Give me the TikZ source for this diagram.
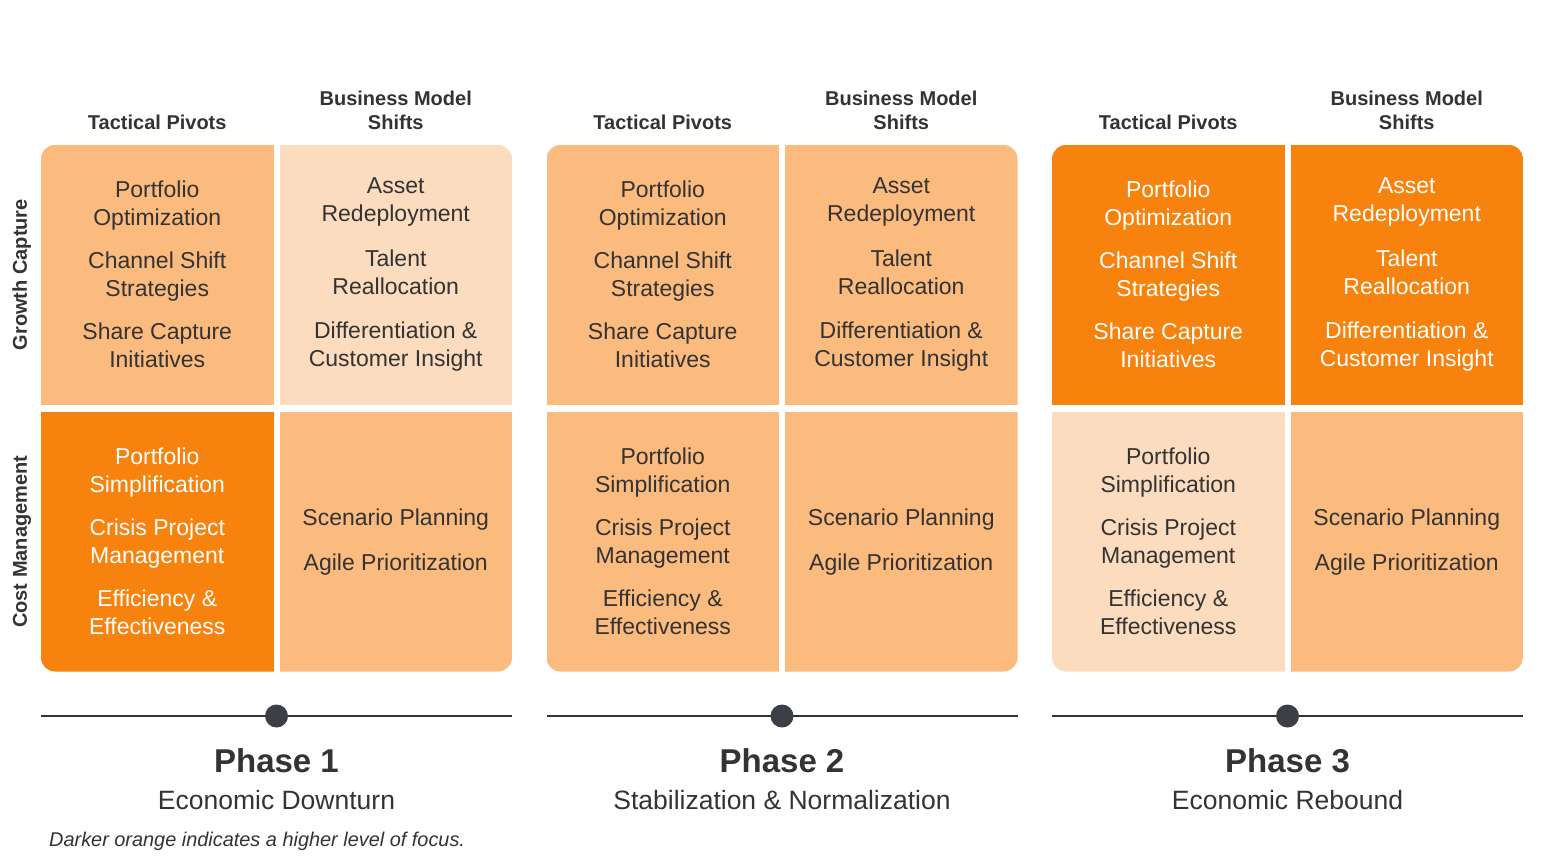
\documentclass[tikz,border=0pt]{standalone}
\usepackage{fontspec}
\setmainfont{Liberation Sans}

\definecolor{hiorange}{HTML}{F7820D}
\definecolor{midorange}{HTML}{FBBB7E}
\definecolor{loorange}{HTML}{FCDCBE}
\definecolor{inkgray}{HTML}{333333}
\definecolor{dotgray}{HTML}{3C4046}

\newcommand{\growthpivots}{Portfolio\\Optimization\\[15pt]Channel Shift\\Strategies\\[15pt]Share Capture\\Initiatives}
\newcommand{\growthshifts}{Asset\\Redeployment\\[16.5pt]Talent\\Reallocation\\[16.5pt]Differentiation \&\\Customer Insight}
\newcommand{\costpivots}{Portfolio\\Simplification\\[15pt]Crisis Project\\Management\\[15pt]Efficiency \&\\Effectiveness}
\newcommand{\costshifts}{Scenario Planning\\[17pt]Agile Prioritization}

\begin{document}
\begin{tikzpicture}[
            x=1pt, y=-1pt,
            every node/.style={inner sep=0pt, text=inkgray},
            cell/.style={minimum width=232.5pt, minimum height=259.5pt, align=center,
                font=\fontsize{23}{28}\selectfont},
            hi/.style={fill=hiorange, text=white},
            mid/.style={fill=midorange},
            lo/.style={fill=loorange},
            head/.style={anchor=base, align=center, font=\fontsize{20}{24}\selectfont\bfseries},
            side/.style={rotate=90, anchor=base, font=\fontsize{20}{24}\selectfont\bfseries},
            phase/.style={anchor=base, font=\fontsize{33}{40}\selectfont\bfseries},
            period/.style={anchor=base, font=\fontsize{26.5}{32}\selectfont}
        ]
        \useasboundingbox (0,0) rectangle (1562,865);
        % Row labels
        \node[side] (growth) at (27,274.75) {Growth Capture};
        \node[side] (cost) at (27,541.75) {Cost Management};
        \foreach \p/\tl/\tr/\bl/\br/\period in {1/mid/lo/hi/mid/Economic Downturn,
                2/mid/mid/mid/mid/Stabilization \& Normalization,
                3/hi/hi/lo/mid/Economic Rebound}{
            \pgfmathsetmacro{\xo}{41+505.5*(\p-1)}
            % Column heads
            \node[head] (pivots\p) at (\xo+116.25,129) {Tactical Pivots};
            \node[head] (shifts\p) at (\xo+354.75,129) {Business Model\\Shifts};
            % Cells, clipped to one rounded block
            \begin{scope}
                \clip[rounded corners=14pt] (\xo,145) rectangle (\xo+471,671.5);
                \node[cell,\tl] (gp\p) at (\xo+116.25,274.75) {\growthpivots};
                \node[cell,\tr] (gs\p) at (\xo+354.75,274.75) {\growthshifts};
                \node[cell,\bl] (cp\p) at (\xo+116.25,541.75) {\costpivots};
                \node[cell,\br] (cs\p) at (\xo+354.75,541.75) {\costshifts};
            \end{scope}
            % Timeline with dot
            \coordinate (line\p w) at (\xo,716);
            \coordinate (line\p e) at (\xo+471,716);
            \draw[inkgray, line width=2pt] (line\p w) -- (line\p e);
            \node[circle, fill=dotgray, minimum size=23pt] (dot\p) at (\xo+235.5,716) {};
            \node[phase] (phase\p) at (\xo+235.5,772) {Phase \p};
            \node[period] (period\p) at (\xo+235.5,809) {\period};
        }
        \node[anchor=base west, font=\fontsize{19.9}{24}\selectfont\itshape] (note) at (49,846)
            {Darker orange indicates a higher level of focus.};
\end{tikzpicture}
\end{document}
